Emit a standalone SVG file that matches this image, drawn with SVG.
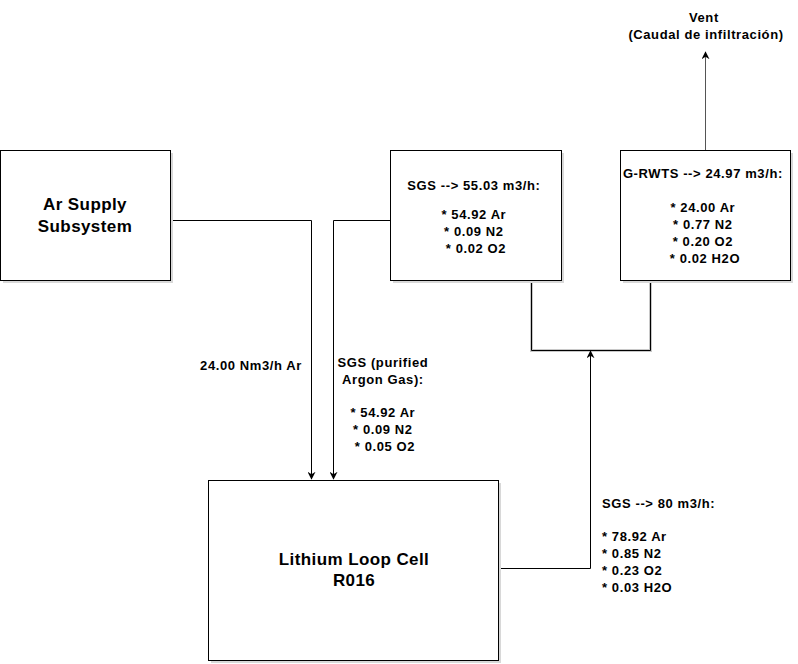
<svg xmlns="http://www.w3.org/2000/svg" width="798" height="664" viewBox="0 0 798 664">
<style>
.box{fill:#fff;stroke:#000;stroke-width:1}
.sh{fill:#d8d8d8}
text{font-family:"Liberation Sans",Arial,sans-serif;font-weight:bold;fill:#000}
.s{font-size:13px;letter-spacing:0.6px}
.b{font-size:17px;letter-spacing:0.4px}
.c{fill:none;stroke:#000;stroke-width:1}
</style>
<defs>
<marker id="ah" viewBox="0 0 10 10" refX="9" refY="5" markerWidth="8" markerHeight="8" markerUnits="userSpaceOnUse" orient="auto">
<path d="M0,0 L10,5 L0,10 L3,5 Z" fill="#000"/>
</marker>
</defs>
<rect width="798" height="664" fill="#fff"/>
<g id="connectors">
<polyline class="c" points="170.5,220.5 311.5,220.5 311.5,479" marker-end="url(#ah)"/>
<polyline class="c" points="390.5,220.5 333.5,220.5 333.5,479" marker-end="url(#ah)"/>
<polyline points="531.5,280 531.5,350.5 650.5,350.5 650.5,280" fill="none" stroke="#c8c8c8" stroke-width="3"/>
<polyline class="c" points="531.5,280 531.5,350.5 650.5,350.5 650.5,280"/>
<polyline class="c" points="500,568.5 590.5,568.5 590.5,351" marker-end="url(#ah)"/>
<polyline points="705.5,150 705.5,52" fill="none" stroke="#555" stroke-width="1" marker-end="url(#ah)"/>
</g>
<g id="ar-supply">
<rect class="sh" x="3" y="153" width="170" height="130"/>
<rect class="box" x="0.5" y="150.5" width="170" height="130"/>
<text class="b" x="85" y="210" text-anchor="middle">Ar Supply</text>
<text class="b" x="85" y="232" text-anchor="middle">Subsystem</text>
</g>
<g id="sgs">
<rect class="sh" x="393" y="153" width="171" height="130"/>
<rect class="box" x="390.5" y="150.5" width="171" height="130"/>
<text class="s" text-anchor="middle">
<tspan x="476" y="190">SGS --&gt; 55.03 m3/h:</tspan>
<tspan x="476" y="219">* 54.92 Ar</tspan>
<tspan x="476" y="236">* 0.09 N2</tspan>
<tspan x="476" y="253">* 0.02 O2</tspan>
</text>
</g>
<g id="grwts">
<rect class="sh" x="623" y="153" width="170" height="130"/>
<rect class="box" x="620.5" y="150.5" width="170" height="130"/>
<text class="s" text-anchor="middle">
<tspan x="705" y="178">G-RWTS --&gt; 24.97 m3/h:</tspan>
<tspan x="705" y="212">* 24.00 Ar</tspan>
<tspan x="705" y="229">* 0.77 N2</tspan>
<tspan x="705" y="246">* 0.20 O2</tspan>
<tspan x="705" y="263">* 0.02 H2O</tspan>
</text>
</g>
<g id="lithium">
<rect class="sh" x="211" y="483" width="290" height="180"/>
<rect class="box" x="208.5" y="480.5" width="290" height="180"/>
<text class="b" x="354" y="565" text-anchor="middle">Lithium Loop Cell</text>
<text class="b" x="354" y="586" text-anchor="middle">R016</text>
</g>
<g id="vent">
<text class="s" text-anchor="middle">
<tspan x="706" y="22">Vent</tspan>
<tspan x="706" y="39">(Caudal de infiltración)</tspan>
</text>
</g>
<g id="labels">
<text class="s" x="251" y="370" text-anchor="middle">24.00 Nm3/h Ar</text>
<text class="s" text-anchor="middle">
<tspan x="385" y="367">SGS (purified</tspan>
<tspan x="385" y="384">Argon Gas):</tspan>
<tspan x="385" y="417">* 54.92 Ar</tspan>
<tspan x="385" y="434">* 0.09 N2</tspan>
<tspan x="385" y="451">* 0.05 O2</tspan>
</text>
<text class="s">
<tspan x="602" y="508">SGS --&gt; 80 m3/h:</tspan>
<tspan x="602" y="541">* 78.92 Ar</tspan>
<tspan x="602" y="558">* 0.85 N2</tspan>
<tspan x="602" y="575">* 0.23 O2</tspan>
<tspan x="602" y="592">* 0.03 H2O</tspan>
</text>
</g>
</svg>
